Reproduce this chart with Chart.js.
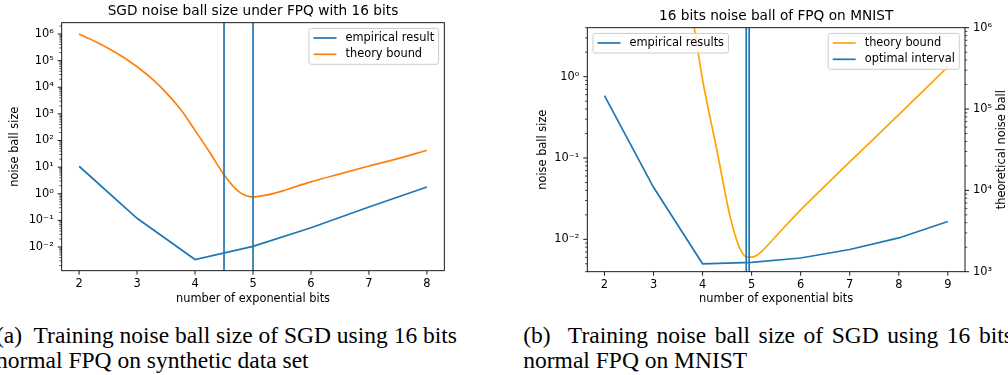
<!DOCTYPE html>
<html>
<head>
<meta charset="utf-8">
<script src="https://cdn.jsdelivr.net/npm/chart.js@4.4.1/dist/chart.umd.min.js"></script>
<style>
  html, body { margin: 0; padding: 0; background: #fff; }
  body { width: 1008px; height: 375px; position: relative; overflow: hidden; }
  .panel { position: absolute; top: 0; height: 310px; }
  .cap { position: absolute; font-family: "Liberation Serif", "Times New Roman", serif; font-size: 23.5px; line-height: 23.5px; color: #000; white-space: pre; }
</style>
</head>
<body>
<div class="panel" style="left:0;width:460px"><canvas id="chartA"></canvas></div>
<div class="panel" style="left:500px;width:508px"><canvas id="chartB"></canvas></div>
<div class="cap" style="left:-4px;top:323.6px"><span style="margin-right:6px">(a)</span> Training noise ball size of SGD using 16 bits</div>
<div class="cap" style="left:-4px;top:348.8px">normal FPQ on synthetic data set</div>
<div class="cap" style="left:523.3px;top:323.6px;word-spacing:2.7px"><span style="margin-right:9px">(b)</span> Training noise ball size of SGD using 16 bits</div>
<div class="cap" style="left:523.3px;top:348.8px">normal FPQ on MNIST</div>
<script>
// (a) synthetic data set
const bitsA = [2, 3, 4, 5, 6, 7, 8];
const empiricalA = [10.8, 0.12, 0.0034, 0.0106, 0.053, 0.32, 1.8];
const theoryBitsA = [2, 2.25, 2.5, 2.75, 3, 3.25, 3.5, 3.75, 4, 4.25, 4.5, 4.75, 5, 5.25, 5.5, 5.75, 6, 6.5, 7, 7.5, 8];
const theoryA = [1.0e6, 5.6e5, 2.95e5, 1.41e5, 5.9e4, 2.14e4, 6300, 1480, 240, 37, 5.2, 1.23, 0.76, 0.91, 1.26, 1.9, 2.8, 5.6, 11, 21, 43];
const optimalA = [4.5, 5];

// (b) MNIST
const bitsB = [2, 3, 4, 5, 6, 7, 8, 9];
const empiricalB = [0.585, 0.0436, 0.0050, 0.0052, 0.0059, 0.0075, 0.0104, 0.0166];
const theoryBitsB = [3.7, 3.83, 4, 4.29, 4.56, 4.7, 4.8, 4.9, 5, 5.1, 5.2, 5.5, 6, 7, 8, 9];
const theoryB = [2.7e6, 1.0e6, 2.29e5, 3.16e4, 4790, 2400, 1740, 1510, 1510, 1580, 1760, 2750, 5750, 22400, 85100, 331000];
const optimalB = [4.89, 4.95];

const BLUE = '#1f77b4';
const ORANGE_A = '#ff7f0e';
const ORANGE_B = '#ffa500';
const FONT = 'DejaVu Sans';

const supDigits = { '0': '⁰', '1': '¹', '2': '²', '3': '³', '4': '⁴', '5': '⁵', '6': '⁶', '7': '⁷', '8': '⁸', '9': '⁹', '-': '⁻' };
function powLabel(v) {
    const e = Math.log10(v);
    const r = Math.round(e);
    if (Math.abs(e - r) > 1e-6) return '';
    return '10' + String(r).split('').map(c => supDigits[c]).join('');
}
function isPow10(v) {
    const e = Math.log10(v);
    return Math.abs(e - Math.round(e)) < 1e-6;
}
// keep only k*10^n ticks (drops the 1.5x ticks and the min/max ends)
function niceLogTicks(scale) {
    scale.ticks = scale.ticks.filter(t => {
        const e = Math.floor(Math.log10(t.value) + 1e-9);
        const m = t.value / Math.pow(10, e);
        return Math.abs(m - Math.round(m)) < 1e-6 && Math.round(m) < 10;
    });
}
// whole numbers only, between the axis limits
function intTicks(scale) {
    const ticks = [];
    for (let v = Math.ceil(scale.min); v <= Math.floor(scale.max); v++) ticks.push({ value: v });
    scale.ticks = ticks;
}
function pairs(xs, ys) {
    return xs.map((x, i) => ({ x: x, y: ys[i] }));
}

// matplotlib-like frame: four spines, major/minor tick marks, optional right axis label
const mplFrame = {
    id: 'mplFrame',
    afterDraw(chart, args, opts) {
        const { ctx, chartArea: a } = chart;
        ctx.save();
        ctx.strokeStyle = '#000';
        Object.values(chart.scales).forEach(s => {
            s.ticks.forEach(t => {
                const major = s.type !== 'logarithmic' || isPow10(t.value);
                const len = major ? 4 : 2.3;
                ctx.lineWidth = major ? 0.9 : 0.7;
                const p = s.getPixelForValue(t.value);
                ctx.beginPath();
                if (s.axis === 'x') { ctx.moveTo(p, a.bottom); ctx.lineTo(p, a.bottom + len); }
                else if (s.position === 'left') { ctx.moveTo(a.left, p); ctx.lineTo(a.left - len, p); }
                else { ctx.moveTo(a.right, p); ctx.lineTo(a.right + len, p); }
                ctx.stroke();
            });
        });
        ctx.lineWidth = 0.9;
        ctx.strokeRect(a.left, a.top, a.right - a.left, a.bottom - a.top);
        if (opts.rightTitle) {
            ctx.translate(chart.width - opts.rightTitleInset, (a.top + a.bottom) / 2);
            ctx.rotate(-Math.PI / 2);
            ctx.font = '11.4px "' + FONT + '"';
            ctx.fillStyle = '#000';
            ctx.textAlign = 'center';
            ctx.textBaseline = 'middle';
            ctx.fillText(opts.rightTitle, 0, 0);
        }
        ctx.restore();
    }
};

// legend boxes drawn inside the axes, like loc='upper left'/'upper right'
const boxLegend = {
    id: 'boxLegend',
    afterDatasetsDraw(chart, args, opts) {
        const { ctx, chartArea: a } = chart;
        const pad = 4.5, handle = 23, gap = 9, pitch = 16.3, edge = 5.7;
        ctx.save();
        ctx.font = '11.4px "' + FONT + '"';
        (opts.boxes || []).forEach(b => {
            const tw = Math.max(...b.items.map(it => ctx.measureText(it.text).width));
            const w = pad + handle + gap + tw + pad;
            const h = 19.6 + pitch * (b.items.length - 1);
            const x = b.corner === 'left' ? a.left + edge : a.right - edge - w;
            const y = a.top + edge;
            ctx.beginPath();
            if (ctx.roundRect) ctx.roundRect(x, y, w, h, 2.3); else ctx.rect(x, y, w, h);
            ctx.fillStyle = 'rgba(255,255,255,0.8)';
            ctx.fill();
            ctx.strokeStyle = '#cccccc';
            ctx.lineWidth = 1;
            ctx.stroke();
            b.items.forEach((it, i) => {
                const cy = y + 9.6 + i * pitch;
                ctx.strokeStyle = it.color;
                ctx.lineWidth = 1.7;
                ctx.beginPath();
                ctx.moveTo(x + pad, cy);
                ctx.lineTo(x + pad + handle, cy);
                ctx.stroke();
                ctx.fillStyle = '#000';
                ctx.textBaseline = 'middle';
                ctx.fillText(it.text, x + pad + handle + gap, cy);
            });
        });
        ctx.restore();
    }
};

const tickFont = { family: FONT, size: 11.4 };
const noGrid = { display: false, drawTicks: false };

function xAxis(min, max, height) {
    return {
        type: 'linear', min: min, max: max,
        grid: noGrid, border: { display: false },
        ticks: { font: tickFont, color: '#000', padding: 7, maxRotation: 0, autoSkip: false },
        title: { display: true, text: 'number of exponential bits', font: tickFont, color: '#000', padding: { top: 4, bottom: 4 } },
        afterBuildTicks: intTicks,
        afterFit: s => { s.height = height; }
    };
}
function logAxis(min, max, position, width, title, titlePad) {
    return {
        type: 'logarithmic', position: position, min: min, max: max,
        grid: noGrid, border: { display: false },
        ticks: { font: tickFont, color: '#000', padding: 8, autoSkip: false, callback: v => powLabel(v) },
        title: { display: !!title, text: title, font: tickFont, color: '#000', padding: { top: titlePad, bottom: 4 } },
        afterBuildTicks: niceLogTicks,
        afterFit: s => { s.width = width; }
    };
}
function titleOpts(text, top, bottom) {
    return { display: true, text: text, fullSize: false, color: '#000', font: { family: FONT, size: 13.7, weight: 'normal' }, padding: { top: top, bottom: bottom } };
}

const yMinA = Math.pow(10, -2.89), yMaxA = Math.pow(10, 6.425);
const yMinB = 0.004, yMaxB = 4;

new Chart(document.getElementById('chartA'), {
    type: 'line',
    data: {
        datasets: [
            { label: 'empirical result', data: pairs(bitsA, empiricalA), borderColor: BLUE, order: 2 },
            { label: 'theory bound', data: pairs(theoryBitsA, theoryA), borderColor: ORANGE_A, cubicInterpolationMode: 'monotone', order: 1 }
        ].concat(optimalA.map(x => ({ label: 'optimal', data: [{ x: x, y: yMinA }, { x: x, y: yMaxA }], borderColor: BLUE, order: 0 })))
    },
    options: {
        responsive: true, maintainAspectRatio: false, animation: false,
        layout: { padding: { left: 0, right: 15.7, top: 0, bottom: 0 } },
        elements: { point: { radius: 0 }, line: { borderWidth: 1.7, fill: false } },
        scales: {
            x: xAxis(1.7, 8.3, 39.3),
            y: logAxis(yMinA, yMaxA, 'left', 61.7, 'noise ball size', 8.2)
        },
        plugins: {
            legend: { display: false },
            tooltip: { enabled: false },
            title: titleOpts('SGD noise ball size under FPQ with 16 bits', 2.8, 3.46),
            boxLegend: { boxes: [{ corner: 'right', items: [{ text: 'empirical result', color: BLUE }, { text: 'theory bound', color: ORANGE_A }] }] },
            mplFrame: {}
        }
    },
    plugins: [boxLegend, mplFrame]
});

new Chart(document.getElementById('chartB'), {
    type: 'line',
    data: {
        datasets: [
            { label: 'empirical results', data: pairs(bitsB, empiricalB), borderColor: BLUE, yAxisID: 'y', order: 2 },
            { label: 'theory bound', data: pairs(theoryBitsB, theoryB), borderColor: ORANGE_B, cubicInterpolationMode: 'monotone', yAxisID: 'y1', order: 1 }
        ].concat(optimalB.map(x => ({ label: 'optimal interval', data: [{ x: x, y: yMinB }, { x: x, y: yMaxB }], borderColor: BLUE, yAxisID: 'y', order: 0 })))
    },
    options: {
        responsive: true, maintainAspectRatio: false, animation: false,
        layout: { padding: 0 },
        elements: { point: { radius: 0 }, line: { borderWidth: 1.7, fill: false } },
        scales: {
            x: xAxis(1.65, 9.35, 38.3),
            y: logAxis(yMinB, yMaxB, 'left', 87.3, 'noise ball size', 36.5),
            y1: logAxis(1e3, 1e6, 'right', 43, '', 4)
        },
        plugins: {
            legend: { display: false },
            tooltip: { enabled: false },
            title: titleOpts('16 bits noise ball of FPQ on MNIST', 7.8, 3.46),
            boxLegend: {
                boxes: [
                    { corner: 'left', items: [{ text: 'empirical results', color: BLUE }] },
                    { corner: 'right', items: [{ text: 'theory bound', color: ORANGE_B }, { text: 'optimal interval', color: BLUE }] }
                ]
            },
            mplFrame: { rightTitle: 'theoretical noise ball', rightTitleInset: 6.3 }
        }
    },
    plugins: [boxLegend, mplFrame]
});
</script>
</body>
</html>
